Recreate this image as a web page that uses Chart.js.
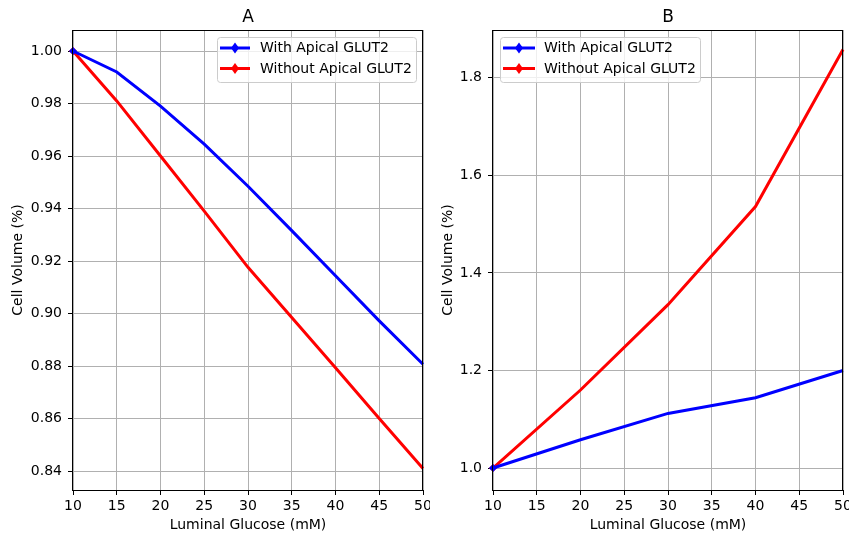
<!DOCTYPE html>
<html><head><meta charset="utf-8">
<script src="https://cdn.jsdelivr.net/npm/chart.js@4.4.0/dist/chart.umd.min.js"></script>
<style>
body{margin:0;background:#fff;width:849px;height:535px;overflow:hidden;position:relative}
canvas{position:absolute;top:0}
</style></head>
<body>
<canvas id="cA" width="430" height="535" style="left:0"></canvas>
<canvas id="cB" width="419" height="535" style="left:430px"></canvas>
<script>
// ---- data ----
const glucoseA = [10, 15, 20, 25, 30, 35, 40, 45, 50];
const withA = [1.000, 0.992, 0.979, 0.9645, 0.9485, 0.9316, 0.9144, 0.8972, 0.8807];
const withoutA = [1.000, 0.981, 0.960, 0.939, 0.9176, 0.8985, 0.8794, 0.860, 0.841];
const glucoseB = [10, 20, 30, 40, 50];
const withB = [1.000, 1.058, 1.112, 1.144, 1.200];
const withoutB = [1.000, 1.160, 1.335, 1.536, 1.858];
const xTicks = [10, 15, 20, 25, 30, 35, 40, 45, 50];
const yTicksA = [0.84, 0.86, 0.88, 0.90, 0.92, 0.94, 0.96, 0.98, 1.00];
const yTicksB = [1.0, 1.2, 1.4, 1.6, 1.8];
const seriesNames = ['With Apical GLUT2', 'Without Apical GLUT2'];
const seriesColors = ['#0000ff', '#ff0000'];
const panelTitles = ['A', 'B'];
const xTitle = 'Luminal Glucose (mM)';
const yTitle = 'Cell Volume (%)';

const FAM = '"DejaVu Sans", "Liberation Sans", sans-serif';
const AXF = 14;

const mplPlugin = {
  id: 'mpl',
  afterDraw(chart) {
    const o = chart.options.plugins.mpl;
    const ctx = chart.ctx;
    const a = chart.chartArea;
    ctx.save();
    // spines
    ctx.strokeStyle = '#000';
    ctx.lineWidth = 1;
    ctx.strokeRect(Math.round(a.left) - 0.5, Math.round(a.top) + 0.5,
                   Math.round(a.right) - Math.round(a.left), Math.round(a.bottom) - Math.round(a.top));
    // title
    ctx.fillStyle = '#000';
    ctx.font = '17px ' + FAM;
    ctx.textAlign = 'center';
    ctx.textBaseline = 'alphabetic';
    ctx.fillText(o.title, (a.left + a.right) / 2, 22);
    // legend
    const L = o.legend;
    ctx.beginPath();
    if (ctx.roundRect) ctx.roundRect(L.x + 0.5, L.y + 0.5, L.w, L.h, 3); else ctx.rect(L.x + 0.5, L.y + 0.5, L.w, L.h);
    ctx.fillStyle = 'rgba(255,255,255,0.8)';
    ctx.fill();
    ctx.strokeStyle = '#cccccc';
    ctx.stroke();
    chart.data.datasets.forEach((ds, i) => {
      const yy = L.y + 11 + i * 20.5;
      ctx.strokeStyle = ds.borderColor;
      ctx.lineWidth = 3;
      ctx.beginPath();
      ctx.moveTo(L.x + 3, yy);
      ctx.lineTo(L.x + L.line, yy);
      ctx.stroke();
      const cx = L.x + 3 + (L.line - 3) / 2;
      ctx.fillStyle = ds.borderColor;
      ctx.beginPath();
      ctx.moveTo(cx, yy - 5.5);
      ctx.lineTo(cx + 4, yy);
      ctx.lineTo(cx, yy + 5.5);
      ctx.lineTo(cx - 4, yy);
      ctx.closePath();
      ctx.fill();
      ctx.fillStyle = '#000';
      ctx.font = AXF + 'px ' + FAM;
      ctx.textAlign = 'left';
      ctx.textBaseline = 'middle';
      ctx.fillText(ds.label, L.x + L.text, yy + 0.5);
    });
    ctx.restore();
  }
};

function makeChart(id, xs, s1, s2, yMin, yMax, yTicks, dec, title, yWidth, padRight, legend) {
  const series = [s1, s2];
  return new Chart(document.getElementById(id), {
    type: 'line',
    data: {
      datasets: [0, 1].map(i => ({
        label: seriesNames[i],
        data: xs.map((x, j) => ({ x: x, y: series[i][j] })),
        borderColor: seriesColors[i],
        backgroundColor: seriesColors[i],
        borderWidth: 3,
        pointStyle: 'rectRot',
        pointRadius: xs.map((_, j) => j === 0 ? 4 : 0),
        pointBorderWidth: 0,
        tension: 0,
        clip: false
      }))
    },
    options: {
      responsive: false,
      animation: false,
      devicePixelRatio: 1,
      layout: { padding: { left: 0, right: padRight, top: 30, bottom: 0 } },
      plugins: {
        legend: { display: false },
        tooltip: { enabled: false },
        title: { display: false },
        mpl: { title: title, legend: legend }
      },
      scales: {
        x: {
          type: 'linear', min: 10, max: 50,
          afterBuildTicks: s => { s.ticks = xTicks.map(v => ({ value: v })); },
          afterFit: s => { s.height = 45; s.paddingLeft = 0; s.paddingRight = 0; },
          ticks: { font: { family: FAM, size: AXF }, color: '#000', padding: 3, maxRotation: 0, autoSkip: false,
                   callback: v => String(v) },
          grid: { color: '#b0b0b0', lineWidth: 1, tickLength: 5, tickColor: '#000' },
          border: { display: false },
          title: { display: true, text: xTitle, font: { family: FAM, size: AXF }, color: '#000', padding: { top: 0, bottom: 1 } }
        },
        y: {
          type: 'linear', min: yMin, max: yMax,
          afterBuildTicks: s => { s.ticks = yTicks.map(v => ({ value: v })); },
          afterFit: s => { s.width = yWidth; s.paddingTop = 0; s.paddingBottom = 0; },
          ticks: { font: { family: FAM, size: AXF }, color: '#000', padding: 6, autoSkip: false,
                   callback: v => Number(v).toFixed(dec) },
          grid: { color: '#b0b0b0', lineWidth: 1, tickLength: 5, tickColor: '#000' },
          border: { display: false },
          title: { display: true, text: yTitle, font: { family: FAM, size: AXF }, color: '#000', padding: { top: 10, bottom: 0 } }
        }
      }
    },
    plugins: [mplPlugin]
  });
}

makeChart('cA', glucoseA, withA, withoutA, 0.8328, 1.008, yTicksA, 2, panelTitles[0], 73, 7,
  { x: 217, y: 37, w: 199, h: 45, line: 33, text: 43 });
makeChart('cB', glucoseB, withB, withoutB, 0.955, 1.898, yTicksB, 1, panelTitles[1], 63, 6,
  { x: 70, y: 37, w: 200, h: 45, line: 35, text: 44 });
</script>
</body></html>
